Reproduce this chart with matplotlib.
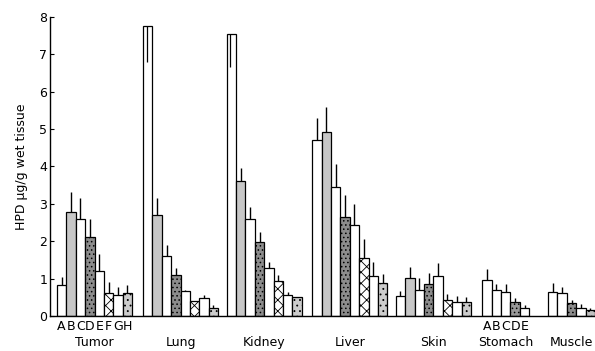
import matplotlib
matplotlib.use("Agg")
import matplotlib.pyplot as plt

plt.rcParams["hatch.linewidth"] = 0.6
plt.rcParams["font.family"] = ["DejaVu Sans"]

# tissue groups and their bar letters
tissues = ["Tumor", "Lung", "Kidney", "Liver", "Skin", "Stomach", "Muscle"]
letters8 = list("ABCDEFGH")
letters5 = list("ABCDE")

# mean HPD (ug/g wet tissue) and top of the error bar
tumor = [0.82, 2.78, 2.6, 2.12, 1.2, 0.62, 0.57, 0.62]
tumor_err = [1.05, 3.32, 3.15, 2.6, 1.65, 0.9, 0.76, 0.82]
lung = [7.75, 2.7, 1.6, 1.1, 0.66, 0.4, 0.48, 0.22]
lung_err = [7.75, 3.15, 1.9, 1.27, 0.7, 0.4, 0.55, 0.29]
kidney = [7.55, 3.6, 2.6, 1.98, 1.29, 0.94, 0.55, 0.51]
kidney_err = [7.55, 3.95, 2.92, 2.25, 1.45, 1.1, 0.64, 0.51]
liver = [4.7, 4.92, 3.46, 2.65, 2.42, 1.56, 1.08, 0.88]
liver_err = [5.3, 5.6, 4.06, 3.23, 2.99, 2.07, 1.45, 1.12]
skin = [0.52, 1.02, 0.68, 0.85, 1.07, 0.42, 0.38, 0.38]
skin_err = [0.67, 1.3, 1.02, 1.15, 1.42, 0.58, 0.52, 0.51]
stomach = [0.95, 0.68, 0.64, 0.37, 0.22]
stomach_err = [1.25, 0.85, 0.85, 0.49, 0.3]
muscle = [0.64, 0.62, 0.35, 0.21, 0.17]
muscle_err = [0.87, 0.76, 0.43, 0.31, 0.2]

# off-scale bars (lung A, kidney A): inner line drops to this value
offscale_low = {("Lung", 0): 6.8, ("Kidney", 0): 6.65}

values = [tumor, lung, kidney, liver, skin, stomach, muscle]
errors = [tumor_err, lung_err, kidney_err, liver_err, skin_err, stomach_err, muscle_err]

# where each group starts, in bar-width units
group_start = [0.74, 9.9, 18.8, 27.9, 36.8, 46.0, 53.0]

# fill style per bar letter (face, hatch)
style8 = [("white", None), ("0.78", None), ("white", None), ("0.55", "...."),
          ("white", None), ("white", "xxx"), ("white", None), ("0.8", "...")]
style5 = [("white", None), ("white", None), ("white", None), ("0.6", "...."),
          ("white", None)]
style_muscle = [("white", None), ("white", None), ("0.55", "...."),
                ("white", None), ("0.75", "...")]

fig = plt.figure(figsize=(5.95, 3.51), dpi=100)
ax = fig.add_axes([0.084, 0.1, 0.916, 0.852])

for gi, (name, vals, errs) in enumerate(zip(tissues, values, errors)):
    if name == "Muscle":
        styles = style_muscle
    elif len(vals) == 5:
        styles = style5
    else:
        styles = style8
    xs = [group_start[gi] + i + 0.5 for i in range(len(vals))]
    for i, (x, v, e) in enumerate(zip(xs, vals, errs)):
        face, hatch = styles[i]
        ax.bar(x, v, width=1.0, color=face, edgecolor="black", linewidth=0.9,
               hatch=hatch, zorder=2)
        if (name, i) in offscale_low:
            ax.vlines(x - 0.1, offscale_low[(name, i)], v, color="black",
                      linewidth=0.9, zorder=3)
        elif e > v:
            ax.vlines(x, v, e, color="black", linewidth=1.0, zorder=3)
    center = group_start[gi] + len(vals) / 2
    ax.text(center, -0.7, name, ha="center", va="center", fontsize=9)
    if name == "Tumor":
        for x, l in zip(xs, letters8):
            ax.text(x, -0.28, l, ha="center", va="center", fontsize=9)
    if name == "Stomach":
        for x, l in zip(xs, letters5):
            ax.text(x, -0.28, l, ha="center", va="center", fontsize=9)

ax.set_xlim(0, 58)
ax.set_ylim(0, 8)
ax.set_yticks(range(0, 9))
ax.tick_params(axis="y", direction="in", length=3, labelsize=9, pad=2)
ax.set_xticks([])
ax.spines["top"].set_visible(False)
ax.spines["right"].set_visible(False)
ax.spines["left"].set_linewidth(1.0)
ax.spines["bottom"].set_linewidth(1.0)
ax.set_ylabel("HPD \u03bcg/g wet tissue", fontsize=9, labelpad=8)

fig.savefig("out.png", dpi=100)
